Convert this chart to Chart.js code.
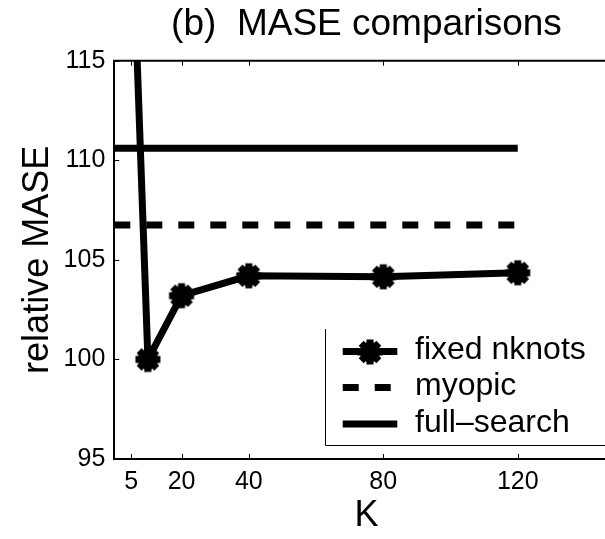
<!DOCTYPE html>
<html>
<head>
<meta charset="utf-8">
<script src="https://cdn.jsdelivr.net/npm/chart.js@4.4.1/dist/chart.umd.min.js"></script>
<style>
  html, body { margin: 0; padding: 0; background: #fff; overflow: hidden; }
  #wrap { width: 605px; height: 539px; overflow: hidden; position: relative; }
  canvas { display: block; }
</style>
</head>
<body>
<div id="wrap"><canvas id="c" width="620" height="539" style="width:620px;height:539px"></canvas></div>
<script>
// K values and relative MASE for each method
const kValues      = [5, 10, 20, 40, 80, 120];
const fixedNknots  = [123.5, 100.0, 103.2, 104.2, 104.15, 104.35];
const refK         = [0, 120];
const myopic       = [106.75, 106.75];
const fullSearch   = [110.6, 110.6];
const xTickValues  = [5, 20, 40, 80, 120];
const yTickValues  = [95, 100, 105, 110, 115];
const seriesLabels = ['fixed nknots', 'myopic', 'full\u2013search'];

const FONT = "'Liberation Sans', Arial, Helvetica, sans-serif";
Chart.defaults.font.family = FONT;
Chart.defaults.color = '#000';

const pts = (xs, ys) => xs.map((x, i) => ({ x: x, y: ys[i] }));

// thick asterisk marker, pre-rendered once and used as the point style
function makeStarMarker() {
  const size = 32, c = size / 2, r = 12.5;
  const cv = document.createElement('canvas');
  cv.width = size; cv.height = size;
  const g = cv.getContext('2d');
  g.strokeStyle = '#000';
  g.fillStyle = '#000';
  g.lineWidth = 7;
  g.beginPath();
  for (let a = 0; a < 4; a++) {
    const ang = a * Math.PI / 4;
    const dx = Math.cos(ang) * r, dy = Math.sin(ang) * r;
    g.moveTo(c - dx, c - dy);
    g.lineTo(c + dx, c + dy);
  }
  g.stroke();
  g.beginPath();
  g.arc(c, c, 10.3, 0, Math.PI * 2);
  g.fill();
  return cv;
}
const starMarker = makeStarMarker();

// box frame: top spine plus inward tick marks
const framePlugin = {
  id: 'frame',
  afterDatasetsDraw(chart) {
    const { ctx, chartArea: a, scales: { x, y } } = chart;
    ctx.save();
    ctx.strokeStyle = '#000';
    ctx.lineWidth = 2;
    ctx.beginPath();
    ctx.moveTo(a.left - 1, a.top);
    ctx.lineTo(a.right, a.top);
    ctx.stroke();
    ctx.lineWidth = 1;
    ctx.beginPath();
    xTickValues.forEach(v => {
      const px = Math.round(x.getPixelForValue(v)) + 0.5;
      ctx.moveTo(px, a.bottom); ctx.lineTo(px, a.bottom - 5);
      ctx.moveTo(px, a.top);    ctx.lineTo(px, a.top + 5);
    });
    yTickValues.forEach(v => {
      const py = Math.round(y.getPixelForValue(v)) + 0.5;
      ctx.moveTo(a.left, py); ctx.lineTo(a.left + 5, py);
    });
    ctx.stroke();
    ctx.restore();
  }
};

// legend box in the lower right of the plot
const legendPlugin = {
  id: 'boxLegend',
  afterDraw(chart) {
    const { ctx } = chart;
    const boxLeft = 325.5, boxTop = 329, boxBottom = 445.5;
    ctx.save();
    ctx.strokeStyle = '#000';
    ctx.lineWidth = 1;
    ctx.beginPath();
    ctx.moveTo(boxLeft, boxTop);
    ctx.lineTo(boxLeft, boxBottom);
    ctx.lineTo(chart.width, boxBottom);
    ctx.stroke();

    const rows = [351.5, 387.5, 424];
    const x0 = 342.7, x1 = 397.3, tx = 415;
    chart.data.datasets.forEach((ds, i) => {
      const yy = rows[i];
      ctx.save();
      ctx.strokeStyle = '#000';
      ctx.lineWidth = ds.borderWidth;
      ctx.lineCap = 'butt';
      ctx.setLineDash(ds.borderDash || []);
      ctx.beginPath();
      ctx.moveTo(x0, yy);
      ctx.lineTo(x1, yy);
      ctx.stroke();
      ctx.restore();
      if (ds.pointRadius > 0) {
        const m = ds.pointStyle;
        ctx.drawImage(m, Math.round((x0 + x1) / 2 - m.width / 2), Math.round(yy - m.height / 2));
      }
      ctx.fillStyle = '#000';
      ctx.font = '32px ' + FONT;
      ctx.textBaseline = 'middle';
      ctx.textAlign = 'left';
      ctx.fillText(ds.label, tx, yy - 1);
    });
    ctx.restore();
  }
};

new Chart(document.getElementById('c'), {
  type: 'line',
  data: {
    datasets: [
      {
        label: seriesLabels[0],
        data: pts(kValues, fixedNknots),
        borderColor: '#000',
        borderWidth: 7,
        pointStyle: starMarker,
        pointRadius: 12,
        pointBorderColor: '#000',
        pointBackgroundColor: '#000',
        tension: 0,
        clip: 0
      },
      {
        label: seriesLabels[1],
        data: pts(refK, myopic),
        borderColor: '#000',
        borderWidth: 7,
        borderDash: [16, 16],
        pointRadius: 0,
        clip: 0
      },
      {
        label: seriesLabels[2],
        data: pts(refK, fullSearch),
        borderColor: '#000',
        borderWidth: 7,
        pointRadius: 0,
        clip: 0
      }
    ]
  },
  options: {
    responsive: false,
    devicePixelRatio: 1,
    animation: false,
    events: [],
    // the plot box runs past the visible right edge (K axis ends at 150)
    layout: { autoPadding: false, padding: { left: 0, right: 1.4, top: 0, bottom: 0 } },
    plugins: {
      legend: { display: false },
      tooltip: { enabled: false },
      title: {
        display: true,
        text: '(b)  MASE comparisons',
        fullSize: false,
        color: '#000',
        font: { size: 37, weight: 'normal', family: FONT, lineHeight: 1.2 },
        padding: { top: 2.3, bottom: 14 }
      }
    },
    scales: {
      x: {
        type: 'linear',
        min: 0,
        max: 150,
        afterBuildTicks: s => { s.ticks = xTickValues.map(v => ({ value: v })); },
        afterFit: s => { s.height = 80; s.paddingLeft = 0; s.paddingRight = 0; },
        grid: { display: false, drawTicks: false },
        border: { display: true, color: '#000', width: 2 },
        ticks: { font: { size: 25, family: FONT }, color: '#000', padding: 8.5, maxRotation: 0, autoSkip: false },
        title: {
          display: true, text: 'K', color: '#000',
          font: { size: 36, family: FONT, lineHeight: 1.2 },
          padding: { top: 0, bottom: 1 }
        }
      },
      y: {
        type: 'linear',
        min: 95,
        max: 115,
        afterBuildTicks: s => { s.ticks = yTickValues.map(v => ({ value: v })); },
        afterFit: s => { s.width = 114.3; },
        grid: { display: false, drawTicks: false },
        border: { display: true, color: '#000', width: 2 },
        ticks: { font: { size: 25, family: FONT }, color: '#000', padding: 9 },
        title: {
          display: true, text: 'relative MASE', color: '#000',
          font: { size: 36, family: FONT, lineHeight: 1.2 },
          padding: { top: 16, bottom: 0 }
        }
      }
    }
  },
  plugins: [framePlugin, legendPlugin]
});
</script>
</body>
</html>
